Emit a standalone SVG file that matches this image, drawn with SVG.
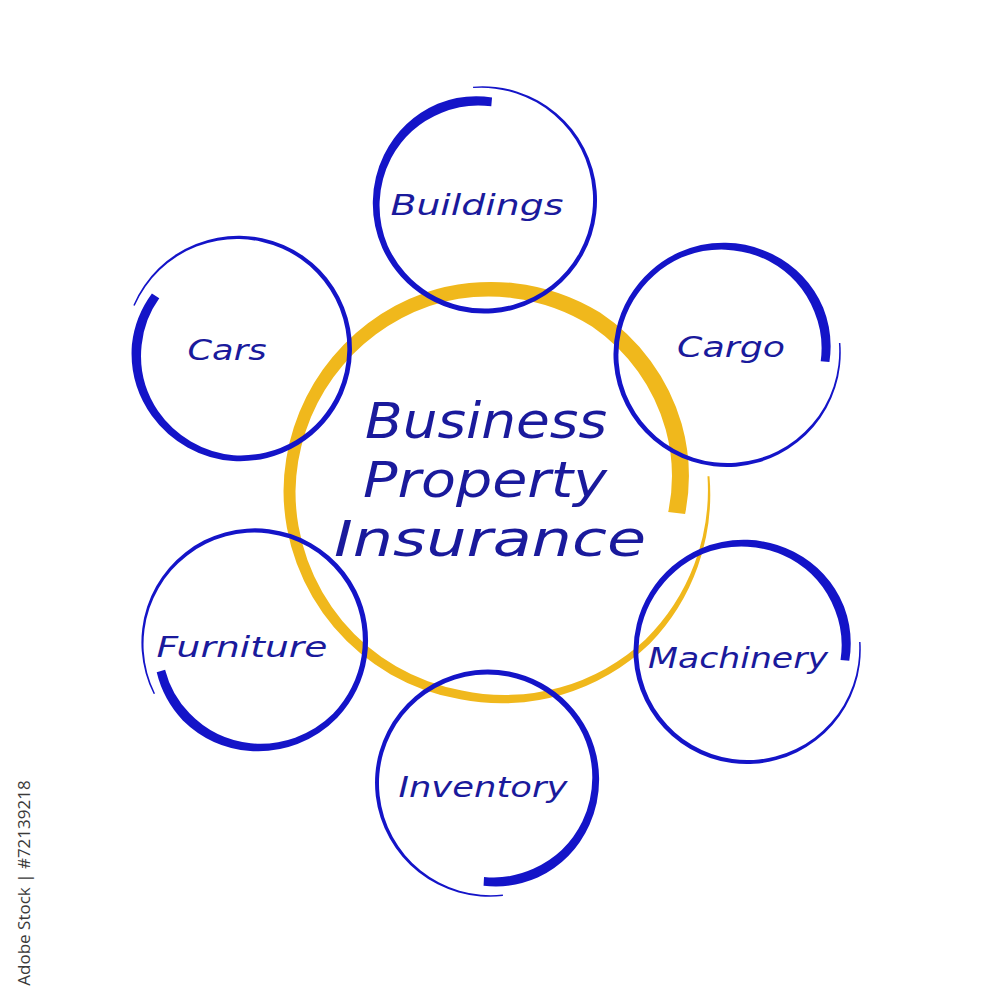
<svg xmlns="http://www.w3.org/2000/svg" xmlns:xlink="http://www.w3.org/1999/xlink" width="1000" height="1000" viewBox="0 0 1000 1000">
  <style>
    .ring { fill: #1414c8; }
    .label { font-family: "DejaVu Sans", "Noto Sans", sans-serif; font-style: italic; fill: #1a1a9c; text-anchor: middle; font-size: 28px; }
    .title { font-family: "DejaVu Sans", "Noto Sans", sans-serif; font-style: italic; fill: #1a1a9c; text-anchor: middle; font-size: 49px; }
    .wm { font-family: "Open Sans", "Noto Sans", sans-serif; fill: #3a3a3a; font-size: 17px; text-anchor: middle; }
  </style>
  <defs>
    <path id="brush" d="M117.75,0 A117.4,117.4 0 0 1 0,117 A116.25,116.25 0 0 1 -115.5,0 A114.75,114.75 0 0 1 -38.99,-107.12 A113,113 0 0 1 56,-96.99 A111,111 0 0 1 103.37,-37.62 A108.25,108.25 0 0 1 104.88,18.49 L96.02,16.93 A98.75,98.75 0 0 0 93.97,-34.2 A102,102 0 0 0 52,-90.07 A106,106 0 0 0 -36.94,-101.49 A109.25,109.25 0 0 0 -110.5,0 A111.75,111.75 0 0 0 0,113 A114.6,114.6 0 0 0 116.25,0 Z"/>
  </defs>
  <rect width="1000" height="1000" fill="#ffffff"/>

  <g id="center-node">
    <path fill="#f0b81c" d="M709.48,476.14 A214.5,214.5 0 0 1 649.74,643.74 A213.75,213.75 0 0 1 460.27,699.29 A212.5,212.5 0 0 1 283.5,491 A212.25,212.25 0 0 1 424.83,292.73 A208.5,208.5 0 0 1 600,312.6 A201,201 0 0 1 681.65,423.79 A193,193 0 0 1 685.09,514.09 L668.21,512.02 A176,176 0 0 0 665.68,429.6 A184.75,184.75 0 0 0 592,326.45 A193.5,193.5 0 0 0 429.62,305.88 A199.25,199.25 0 0 0 295.5,491 A202,202 0 0 0 461.83,690.42 A206.25,206.25 0 0 0 645.49,639.49 A210.5,210.5 0 0 0 707.49,476.28 Z"/>
  </g>

  <g id="node-buildings">
    <use xlink:href="#brush" class="ring" transform="translate(483,201) rotate(265) scale(0.975)"/>
  </g>
  <g id="node-cars">
    <use xlink:href="#brush" class="ring" transform="translate(239,350) rotate(203) scale(0.975)"/>
  </g>
  <g id="node-cargo">
    <use xlink:href="#brush" class="ring" transform="translate(726,353) rotate(-5) scale(0.975)"/>
  </g>
  <g id="node-furniture">
    <use xlink:href="#brush" class="ring" transform="translate(256,642) rotate(153) scale(0.975)"/>
  </g>
  <g id="node-machinery">
    <use xlink:href="#brush" class="ring" transform="translate(746,650) rotate(-4) scale(0.975)"/>
  </g>
  <g id="node-inventory">
    <use xlink:href="#brush" class="ring" transform="translate(489,782) rotate(83) scale(0.975)"/>
  </g>

  <g id="connectors"></g>

  <g id="labels">
    <text class="title" x="486" y="438" textLength="242" lengthAdjust="spacingAndGlyphs">Business</text>
    <text class="title" x="485" y="497" textLength="244" lengthAdjust="spacingAndGlyphs">Property</text>
    <text class="title" x="490" y="556" textLength="312" lengthAdjust="spacingAndGlyphs">Insurance</text>
    <text class="label" x="477" y="215" textLength="173" lengthAdjust="spacingAndGlyphs">Buildings</text>
    <text class="label" x="227" y="360" textLength="79" lengthAdjust="spacingAndGlyphs">Cars</text>
    <text class="label" x="731" y="357" textLength="108" lengthAdjust="spacingAndGlyphs">Cargo</text>
    <text class="label" x="242" y="657" textLength="171" lengthAdjust="spacingAndGlyphs">Furniture</text>
    <text class="label" x="738" y="668" textLength="180" lengthAdjust="spacingAndGlyphs">Machinery</text>
    <text class="label" x="483" y="797" textLength="169" lengthAdjust="spacingAndGlyphs">Inventory</text>
  </g>

  <g id="watermark">
    <text class="wm" transform="translate(30,883) rotate(-90)">Adobe Stock | #72139218</text>
  </g>
</svg>
